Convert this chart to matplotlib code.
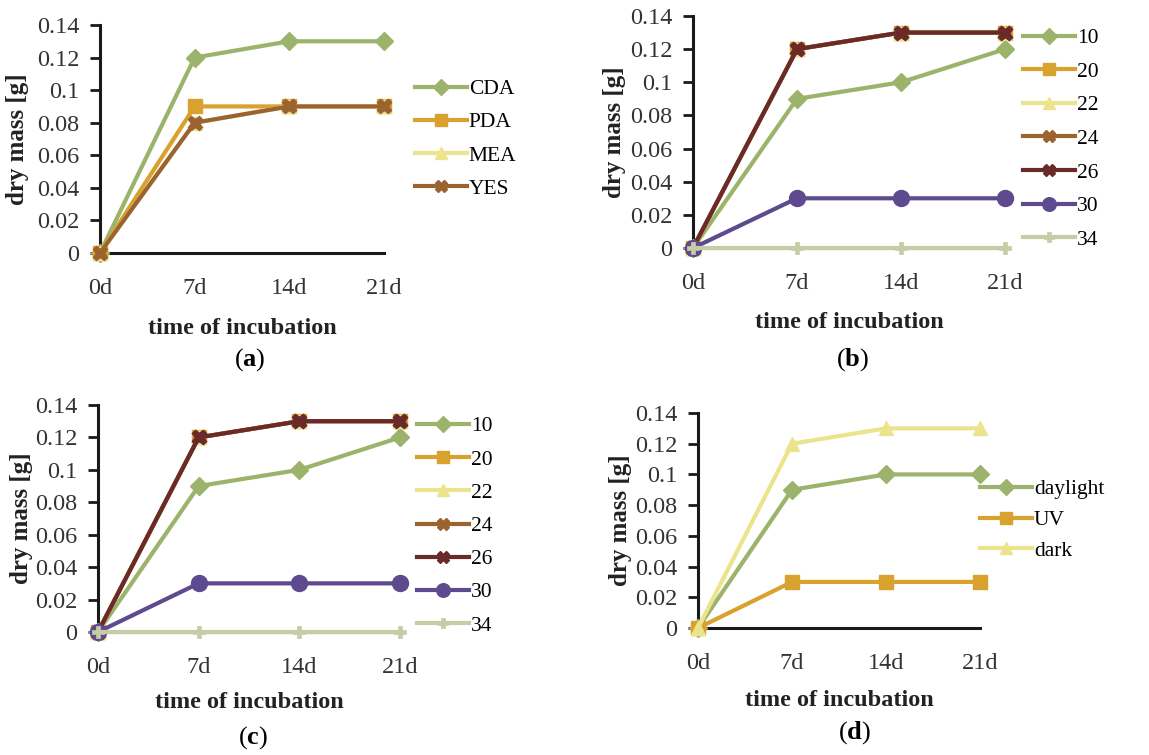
import matplotlib
matplotlib.use("Agg")
from matplotlib import pyplot as plt

plt.rcParams['font.family'] = ['Liberation Serif', 'DejaVu Serif']
plt.rcParams['mathtext.fontset'] = 'custom'
plt.rcParams['mathtext.rm'] = 'Liberation Serif'
plt.rcParams['mathtext.bf'] = 'Liberation Serif:bold'

days = ['0d', '7d', '14d', '21d']
yticks = [0, 0.02, 0.04, 0.06, 0.08, 0.1, 0.12, 0.14]

# (a) culture media
media = ['CDA', 'PDA', 'MEA', 'YES']
cda = [0, 0.12, 0.13, 0.13]
pda = [0, 0.09, 0.09, 0.09]
mea = [0, 0.08, 0.09, 0.09]
yes = [0, 0.08, 0.09, 0.09]

# (b) and (c) temperature
temps = ['10', '20', '22', '24', '26', '30', '34']
t10 = [0, 0.09, 0.10, 0.12]
t20 = [0, 0.12, 0.13, 0.13]
t22 = [0, 0.12, 0.13, 0.13]
t24 = [0, 0.12, 0.13, 0.13]
t26 = [0, 0.12, 0.13, 0.13]
t30 = [0, 0.03, 0.03, 0.03]
t34 = [0, 0, 0, 0]

# (d) light
lights = ['daylight', 'UV', 'dark']
daylight = [0, 0.09, 0.10, 0.10]
uv = [0, 0.03, 0.03, 0.03]
dark = [0, 0.12, 0.13, 0.13]

GREEN = '#9bb36a'
ORANGE = '#d9a12e'
YELLOW = '#ebe48c'
BROWN = '#9b6330'
MAROON = '#6a2a2a'
PURPLE = '#5e4a8e'
PALE = '#c5cca6'

styles = {
    'green': (GREEN, 'D', 9),
    'orange': (ORANGE, 's', 10.5),
    'yellow': (YELLOW, '^', 10.5),
    'brown': (BROWN, 'X', 10.5),
    'maroon': (MAROON, 'X', 10.5),
    'purple': (PURPLE, 'o', 11.5),
    'pale': (PALE, 'P', 8),
}

W, H = 1149, 755
fig = plt.figure(figsize=(W / 100, H / 100), dpi=100)


def make_axes(left, top, right, bottom):
    ax = fig.add_axes([left / W, 1 - bottom / H, (right - left) / W, (bottom - top) / H])
    ax.set_xlim(0, 3)
    ax.set_ylim(0, 0.14)
    ax.set_yticks(yticks)
    ax.set_yticklabels(['{:g}'.format(v) for v in yticks])
    ax.set_xticks(range(len(days)))
    ax.set_xticklabels(days)
    for s in ['top', 'right']:
        ax.spines[s].set_visible(False)
    ax.spines['left'].set_linewidth(2.2)
    ax.spines['bottom'].set_linewidth(2.2)
    ax.spines['left'].set_color('#1a1a1a')
    ax.spines['bottom'].set_color('#1a1a1a')
    ax.tick_params(axis='y', direction='out', length=7, width=2, pad=8,
                   labelsize=17.5, colors='#1a1a1a', labelcolor='#333333')
    ax.tick_params(axis='x', length=0, pad=18, labelsize=17.5, labelcolor='#333333')
    ax.set_ylabel('dry mass [g]', fontsize=18, fontweight='bold', color='#222222')
    ax.set_xlabel('time of incubation', fontsize=17.5, fontweight='bold', color='#222222')
    return ax


def draw(ax, series, labels, keys, leg_x, leg_y, spacing):
    x = range(len(days))
    for vals, lab, key in zip(series, labels, keys):
        color, marker, ms = styles[key]
        ax.plot(x, vals, color=color, lw=3, marker=marker, ms=ms,
                mfc=color, mec=color, mew=1.0 if marker != 'P' else 0.5,
                label=lab, clip_on=False, zorder=3)
    ax.legend(loc='center left', bbox_to_anchor=(leg_x / W, 1 - leg_y / H),
              bbox_transform=fig.transFigure, frameon=False, fontsize=15.5,
              handlelength=2.4, handletextpad=0.1, borderpad=0,
              borderaxespad=0, labelspacing=spacing, markerscale=0.85)


def place_labels(ax, left, top, right, bottom, ylab_x, xlab_y):
    ax.yaxis.set_label_coords((ylab_x - left) / (right - left), 0.5)
    ax.xaxis.set_label_coords(0.5, -(xlab_y - bottom) / (bottom - top))
    ax.yaxis.label.set_verticalalignment('center')
    ax.xaxis.label.set_verticalalignment('center')


# panel (a)
box = (100, 25, 384, 253)
ax = make_axes(*box)
draw(ax, [cda, pda, mea, yes], media, ['green', 'orange', 'yellow', 'brown'], 415, 139, 0.61)
place_labels(ax, *box, 18, 328)
fig.text(250 / W, 1 - 360 / H, r'($\mathbf{a}$)', fontsize=19, ha='center', va='center')

temp_series = [t10, t20, t22, t24, t26, t30, t34]
temp_keys = ['green', 'orange', 'yellow', 'brown', 'maroon', 'purple', 'pale']

# panel (b)
box = (693, 16, 1005, 248)
ax = make_axes(*box)
draw(ax, temp_series, temps, temp_keys, 1023, 139, 0.63)
place_labels(ax, *box, 615, 322)
fig.text(853 / W, 1 - 360 / H, r'($\mathbf{b}$)', fontsize=19, ha='center', va='center')

# panel (c)
box = (98, 405, 400, 632)
ax = make_axes(*box)
draw(ax, temp_series, temps, temp_keys, 417, 526, 0.61)
place_labels(ax, *box, 22, 702)
fig.text(253 / W, 1 - 738 / H, r'($\mathbf{c}$)', fontsize=19, ha='center', va='center')

# panel (d)
box = (698, 413, 980, 628)
ax = make_axes(*box)
draw(ax, [daylight, uv, dark], lights, ['green', 'orange', 'yellow'], 980, 520, 0.49)
place_labels(ax, *box, 620, 700)
fig.text(855 / W, 1 - 733 / H, r'($\mathbf{d}$)', fontsize=19, ha='center', va='center')

fig.savefig('out.png', dpi=100)
